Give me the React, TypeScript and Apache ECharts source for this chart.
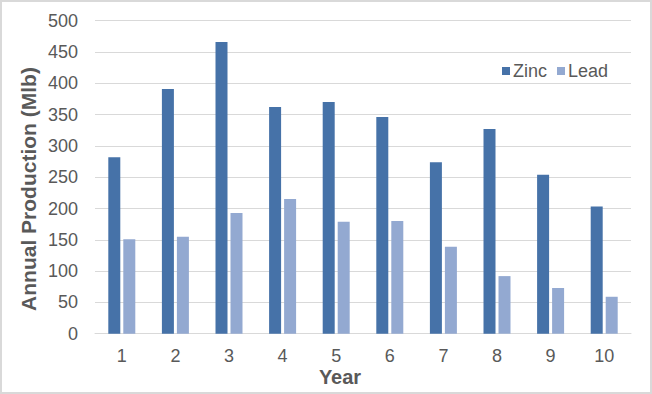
import React, { useEffect, useRef } from "react";
import * as echarts from "echarts";

const years = ["1", "2", "3", "4", "5", "6", "7", "8", "9", "10"];
const zinc = [282, 391, 466, 362, 370, 346, 274, 327, 254, 203];
const lead = [151, 155, 193, 215, 179, 180, 139, 92, 73, 59];
const yTicks = { min: 0, max: 500, interval: 50 };

const TEXT = "#595959";
const GRID = "#d9d9d9";
const FONT = "'Liberation Sans', Arial, sans-serif";

export default function App() {
  const ref = useRef<HTMLDivElement>(null);
  useEffect(() => {
    if (!ref.current) return;
    const chart = echarts.init(ref.current, undefined, { renderer: "svg" });
    chart.setOption({
      animation: false,
      backgroundColor: "#ffffff",
      textStyle: { fontFamily: FONT },
      grid: { left: 95, right: 21, top: 20.7, bottom: 60.3 },
      legend: {
        left: 497,
        top: 57,
        icon: "rect",
        itemWidth: 8,
        itemHeight: 8,
        itemGap: 10,
        textStyle: { color: TEXT, fontSize: 18, fontFamily: FONT, padding: [0, 0, 0, -2] },
        data: ["Zinc", "Lead"],
      },
      xAxis: {
        type: "category",
        data: years,
        axisLine: { lineStyle: { color: GRID, width: 1 } },
        axisTick: { show: false },
        axisLabel: { color: TEXT, fontSize: 18, margin: 13, fontFamily: FONT },
      },
      yAxis: {
        type: "value",
        min: yTicks.min,
        max: yTicks.max,
        interval: yTicks.interval,
        axisLine: { show: false },
        axisTick: { show: false },
        axisLabel: { color: TEXT, fontSize: 18, margin: 17, fontFamily: FONT },
        splitLine: { lineStyle: { color: GRID, width: 1 } },
      },
      series: [
        {
          name: "Zinc",
          type: "bar",
          data: zinc,
          barWidth: 12,
          barGap: "25%",
          itemStyle: { color: "#4672a8" },
        },
        {
          name: "Lead",
          type: "bar",
          data: lead,
          barWidth: 12,
          barGap: "25%",
          itemStyle: { color: "#93a9d1" },
        },
      ],
      graphic: [
        {
          type: "rect",
          shape: { x: 1, y: 1, width: 650, height: 392 },
          style: { fill: "none", stroke: "#d9d9d9", lineWidth: 2 },
          silent: true,
        },
        {
          type: "text",
          x: 28,
          y: 189,
          rotation: Math.PI / 2,
          style: {
            text: "Annual Production (Mlb)",
            fill: TEXT,
            font: `bold 21px ${FONT}`,
            textAlign: "center",
            textVerticalAlign: "middle",
          },
        },
        {
          type: "text",
          x: 340,
          y: 377,
          style: {
            text: "Year",
            fill: TEXT,
            font: `bold 20px ${FONT}`,
            textAlign: "center",
            textVerticalAlign: "middle",
          },
        },
      ],
    });
    return () => chart.dispose();
  }, []);
  return (
    <div
      ref={ref}
      style={{ position: "fixed", left: 0, top: 0, width: 652, height: 394 }}
    />
  );
}
